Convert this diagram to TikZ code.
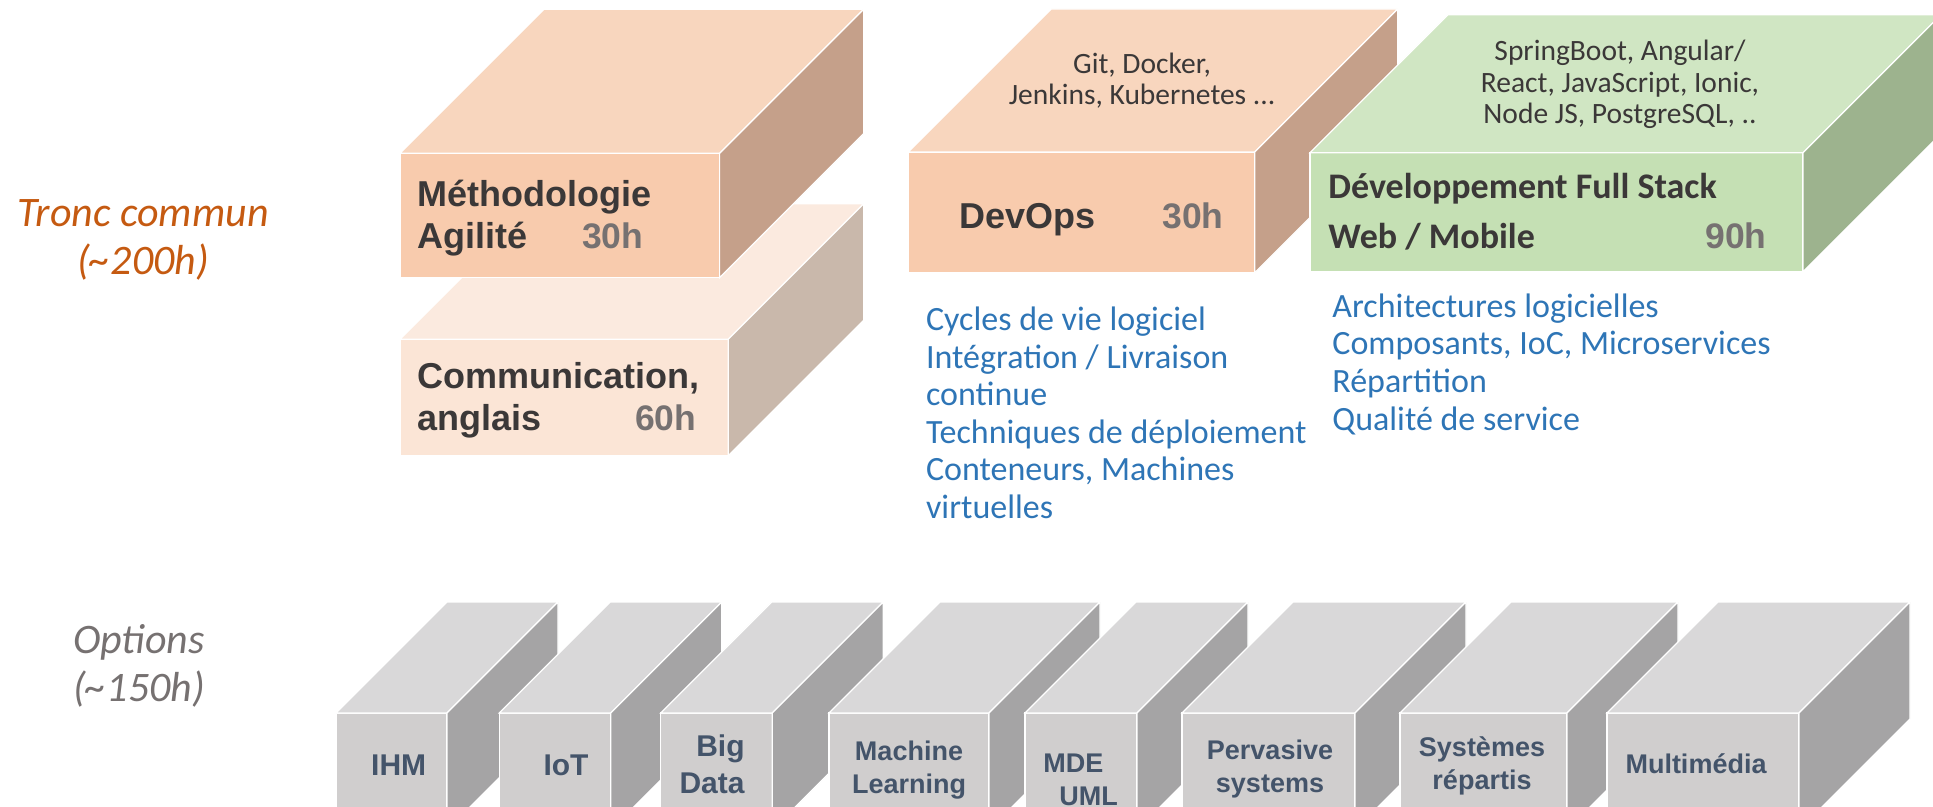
\documentclass[tikz,border=0pt]{standalone}
\usepackage{fontspec}
\setmainfont{Carlito}
\newfontfamily\arialfont{Liberation Sans}

\definecolor{peachfront}{HTML}{F8CBAD}
\definecolor{peachtop}{HTML}{F8D6BE}
\definecolor{peachside}{HTML}{C5A08A}
\definecolor{palefront}{HTML}{FBE5D6}
\definecolor{paletop}{HTML}{FBEADF}
\definecolor{paleside}{HTML}{C9B8AB}
\definecolor{greenfront}{HTML}{C5E0B4}
\definecolor{greentop}{HTML}{D0E6C3}
\definecolor{greenside}{HTML}{9DB38E}
\definecolor{greyfront}{HTML}{D0CECE}
\definecolor{greytop}{HTML}{D9D8D9}
\definecolor{greyside}{HTML}{A5A4A5}
\definecolor{darktext}{HTML}{3B3838}
\definecolor{hourtext}{HTML}{767171}
\definecolor{topictext}{HTML}{2E75B6}
\definecolor{optiontext}{HTML}{44546A}
\definecolor{trunktext}{HTML}{C55A11}

\tikzstyle{face}=[draw=white, line width=0.6pt]
\tikzstyle{boxtitle}=[font=\arialfont\bfseries\fontsize{18}{21}\selectfont, text=darktext, inner sep=0pt, anchor=base west]
\tikzstyle{webtitle}=[font=\bfseries\fontsize{18}{21}\selectfont, text=darktext, inner sep=0pt, anchor=base west]
\tikzstyle{hours}=[font=\arialfont\bfseries\fontsize{17.75}{21}\selectfont, text=hourtext, inner sep=0pt, anchor=base west]
\tikzstyle{tools}=[font=\fontsize{14.75}{15.75}\selectfont, text=darktext, inner sep=0pt, align=center, anchor=base]
\tikzstyle{topics}=[font=\fontsize{17}{18.75}\selectfont, text=topictext, inner sep=0pt, align=left, anchor=base west]
\tikzstyle{part}=[font=\itshape\fontsize{21}{24}\selectfont, inner sep=0pt, align=center, anchor=base]
\tikzstyle{option}=[font=\arialfont\bfseries\fontsize{13.5}{16.5}\selectfont, text=optiontext, inner sep=0pt, align=center, anchor=base]
\tikzstyle{bigoption}=[option, font=\arialfont\bfseries\fontsize{15}{18.5}\selectfont]

% block: colour, x1, y1, x2, y2 (front face), depth
\newcommand{\drawblock}[6]{%
  \filldraw[face, fill=#1front] (#2,#3) rectangle (#4,#5);
  \filldraw[face, fill=#1top] (#2,#3) -- ++(#6,-#6) -- ++({#4-#2},0) -- (#4,#3) -- cycle;
  \filldraw[face, fill=#1side] (#4,#3) -- ++(#6,-#6) -- ++(0,{#5-#3}) -- (#4,#5) -- cycle;
}

\begin{document}
\begin{tikzpicture}[x=0.5pt, y=-0.5pt]
  \useasboundingbox (0,0) rectangle (1933,807);
  \clip (0,0) rectangle (1933,807);

  % tronc commun
  \node[part, text=trunktext] (tronc) at (143,275) {Tronc commun\\(\textasciitilde200h)};

  \drawblock{pale}{400}{339.3}{728.2}{455.7}{135.6}
  \drawblock{peach}{400}{153.3}{719.6}{277.7}{144}
  \node[boxtitle] (metho) at (417,206.7) {Méthodologie};
  \node[boxtitle] (agile) at (417,248.3) {Agilité};
  \node[hours] (methoh) at (581.6,248.3) {30h};
  \node[boxtitle] (comm) at (417,388.3) {Communication,};
  \node[boxtitle] (engl) at (417,430) {anglais};
  \node[hours] (commh) at (634.7,431) {60h};

  \drawblock{peach}{908.2}{152}{1254.8}{272.7}{143}
  \node[boxtitle] (devops) at (959,228.3) {DevOps};
  \node[hours] (devopsh) at (1162,228.3) {30h};
  \node[tools] (devtools) at (1142,105) {Git, Docker,\\Jenkins, Kubernetes ...};

  \drawblock{green}{1310}{152.7}{1803}{271.7}{138}
  \node[webtitle] (fullstack) at (1328,198.3) {Développement Full Stack};
  \node[webtitle] (webmob) at (1328,248.3) {Web / Mobile};
  \node[hours] (webh) at (1705,248.3) {90h};
  \node[tools] (webtools) at (1620,124) {SpringBoot, Angular/\\React, JavaScript, Ionic,\\Node JS, PostgreSQL, ..};

  \node[topics] (devtopics) at (925.7,518) {Cycles de vie logiciel\\Intégration / Livraison\\continue\\Techniques de déploiement\\Conteneurs, Machines\\virtuelles};
  \node[topics] (webtopics) at (1332,430) {Architectures logicielles\\Composants, IoC, Microservices\\Répartition\\Qualité de service};

  % options
  \node[part, text=hourtext] (options) at (139,701) {Options\\(\textasciitilde150h)};

  \drawblock{grey}{336}{713}{447}{830}{111}
  \drawblock{grey}{499.3}{713}{610.7}{830}{111}
  \drawblock{grey}{660.7}{713}{772.3}{830}{111}
  \drawblock{grey}{829}{713}{989}{830}{111}
  \drawblock{grey}{1025}{713}{1137}{830}{111}
  \drawblock{grey}{1182}{713}{1355}{830}{111}
  \drawblock{grey}{1400}{713}{1567}{830}{111}
  \drawblock{grey}{1607}{713}{1799}{830}{111}

  \node[bigoption] (ihm) at (398.7,775) {IHM};
  \node[bigoption] (iot) at (566,775) {IoT};
  \node[bigoption, align=right, anchor=base east] (bigdata) at (745,793) {Big\\Data};
  \node[option] (ml) at (909,793) {Machine\\Learning};
  \node[option, align=left, anchor=base west] (mde) at (1043,805) {MDE\\\hspace*{8pt}UML};
  \node[option] (perv) at (1270,792) {Pervasive\\systems};
  \node[option] (sysrep) at (1482,789.7) {Systèmes\\répartis};
  \node[option] (multi) at (1696,773) {Multimédia};
\end{tikzpicture}
\end{document}
